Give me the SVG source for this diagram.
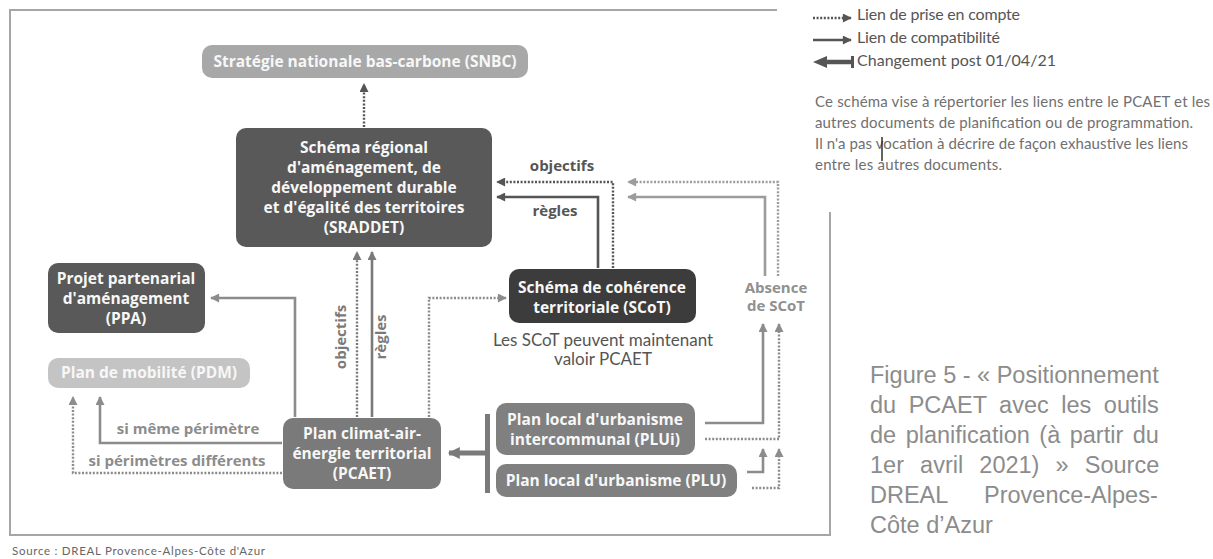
<svg xmlns="http://www.w3.org/2000/svg" width="1213" height="559" viewBox="0 0 1213 559">
  <style>
    .box { stroke: none; }
    .bt { font-family: "Open Sans", Lato, sans-serif; font-weight: bold; font-size: 15.5px; fill: #f7f7f7; text-anchor: middle; }
    .lbl { font-family: "Open Sans", Lato, sans-serif; font-weight: bold; font-size: 15px; text-anchor: middle; }
    .note { font-family: Lato, "Open Sans", sans-serif; font-size: 17px; fill: #555; text-anchor: middle; }
    .leg { font-family: Lato, "Open Sans", sans-serif; font-size: 16px; fill: #555; }
    .par { font-family: Lato, "Open Sans", sans-serif; font-size: 15px; fill: #707070; }
    .cap { font-family: "Liberation Sans", Arial, sans-serif; font-size: 23.5px; fill: #8c8c8c; }
    .solid { fill: none; stroke-width: 2.6; }
    .dot { fill: none; stroke-width: 2.4; stroke-dasharray: 2 1.6; }
    .c1 { stroke: #555; }
    .c2 { stroke: #7a7a7a; }
    .c3 { stroke: #8c8c8c; }
    .c4 { stroke: #9c9c9c; }
  </style>
  <defs>
    <marker id="a1" viewBox="0 0 10 10" refX="9" refY="5" markerUnits="userSpaceOnUse" markerWidth="10" markerHeight="9" orient="auto">
      <path d="M0,0 L10,5 L0,10 z" fill="#555"/>
    </marker>
    <marker id="a2" viewBox="0 0 10 10" refX="9" refY="5" markerUnits="userSpaceOnUse" markerWidth="10" markerHeight="9" orient="auto">
      <path d="M0,0 L10,5 L0,10 z" fill="#7a7a7a"/>
    </marker>
    <marker id="a3" viewBox="0 0 10 10" refX="9" refY="5" markerUnits="userSpaceOnUse" markerWidth="10" markerHeight="9" orient="auto">
      <path d="M0,0 L10,5 L0,10 z" fill="#8c8c8c"/>
    </marker>
    <marker id="a4" viewBox="0 0 10 10" refX="9" refY="5" markerUnits="userSpaceOnUse" markerWidth="10" markerHeight="9" orient="auto">
      <path d="M0,0 L10,5 L0,10 z" fill="#9c9c9c"/>
    </marker>
    <marker id="big" viewBox="0 0 10 10" refX="9" refY="5" markerUnits="userSpaceOnUse" markerWidth="13" markerHeight="12" orient="auto">
      <path d="M0,0 L10,5 L0,10 z" fill="#7a7a7a"/>
    </marker>
  </defs>

  <rect width="1213" height="559" fill="#ffffff"/>

  <!-- frame around the schema -->
  <path d="M777,10 H10 V535 H830 V212" fill="none" stroke="#a6a6a6" stroke-width="2"/>

  <!-- legend -->
  <g id="legend">
    <path class="dot c1" d="M813,18 H851" marker-end="url(#a1)"/>
    <path class="solid c1" d="M813,40 H851" marker-end="url(#a1)"/>
    <path d="M825,62 H852" stroke="#555" stroke-width="4.5" fill="none"/>
    <path d="M813,62 L827,56 L827,68 z" fill="#555"/>
    <rect x="851" y="56" width="3" height="12" fill="#555"/>
    <text class="leg" x="857" y="20" textLength="163">Lien de prise en compte</text>
    <text class="leg" x="857" y="43" textLength="143">Lien de compatibilité</text>
    <text class="leg" x="857" y="66" textLength="199">Changement post 01/04/21</text>
    <text class="par" x="815" y="107" textLength="395">Ce schéma vise à répertorier les liens entre le PCAET et les</text>
    <text class="par" x="815" y="128" textLength="378">autres documents de planification ou de programmation.</text>
    <text class="par" x="815" y="149" textLength="373">Il n'a pas vocation à décrire de façon exhaustive les liens</text>
    <text class="par" x="815" y="170" textLength="187">entre les autres documents.</text>
    <line x1="882" y1="137" x2="882" y2="161" stroke="#222" stroke-width="1.4"/>
  </g>

  <!-- caption -->
  <g id="caption">
    <text class="cap" x="870" y="383" word-spacing="0">Figure 5 - « Positionnement</text>
    <text class="cap" x="870" y="413" word-spacing="6">du PCAET avec les outils</text>
    <text class="cap" x="870" y="443" word-spacing="3">de planification (à partir du</text>
    <text class="cap" x="870" y="473" word-spacing="9.6">1er avril 2021) » Source</text>
    <text class="cap" x="870" y="503" word-spacing="30">DREAL Provence-Alpes-</text>
    <text class="cap" x="870" y="533">Côte d’Azur</text>
  </g>

  <text x="12" y="555" font-family="Lato, 'Open Sans', sans-serif" font-size="11.5" fill="#666" textLength="253">Source : DREAL Provence-Alpes-Côte d'Azur</text>

  <!-- connectors -->
  <g id="connectors">
    <path class="dot c1" d="M364,127 V84" marker-end="url(#a1)"/>
    <path class="dot c2" d="M357,417 V252" marker-end="url(#a2)"/>
    <path class="solid c2" d="M372,417 V252" marker-end="url(#a2)"/>
    <path class="solid c3" d="M295,417 V298 H211" marker-end="url(#a3)"/>
    <path class="solid c3" d="M282,443 H100 V397" marker-end="url(#a3)"/>
    <path class="dot c3" d="M282,473 H73 V397" marker-end="url(#a3)"/>
    <path class="dot c3" d="M429,417 V298 H506" marker-end="url(#a3)"/>
    <path class="solid c1" d="M598,268 V197 H497" marker-end="url(#a1)"/>
    <path class="dot c1" d="M613,268 V182 H497" marker-end="url(#a1)"/>
    <path class="solid c4" d="M765,276 V197 H628" marker-end="url(#a4)"/>
    <path class="dot c4" d="M778,276 V182 H628" marker-end="url(#a4)"/>
    <path class="solid c3" d="M705,423 H763 V324" marker-end="url(#a3)"/>
    <path class="dot c3" d="M705,439 H779 V324" marker-end="url(#a3)"/>
    <path class="solid c3" d="M747,472 H763 V449" marker-end="url(#a3)"/>
    <path class="dot c3" d="M752,488 H779 V449" marker-end="url(#a3)"/>
    <rect x="485" y="414" width="5" height="79" fill="#7a7a7a"/>
    <path d="M487,453 H449" stroke="#7a7a7a" stroke-width="5" fill="none" marker-end="url(#big)"/>
  </g>

  <!-- connector labels -->
  <g id="labels">
    <text class="lbl" x="562" y="171" fill="#555">objectifs</text>
    <text class="lbl" x="555" y="216" fill="#555">règles</text>
    <text class="lbl" transform="translate(346,337) rotate(-90)" fill="#7a7a7a">objectifs</text>
    <text class="lbl" transform="translate(386,337) rotate(-90)" fill="#7a7a7a">règles</text>
    <text class="lbl" x="188" y="434" fill="#8c8c8c">si même périmètre</text>
    <text class="lbl" x="177" y="466" fill="#8c8c8c">si périmètres différents</text>
    <text class="lbl" x="776" y="293" fill="#909090" font-size="13">Absence</text>
    <text class="lbl" x="776" y="311" fill="#909090" font-size="13">de SCoT</text>
  </g>

  <!-- nodes -->
  <g id="snbc">
    <rect class="box" x="202" y="45" width="326" height="33" rx="10" fill="#a8a8a8"/>
    <text class="bt" x="365" y="67">Stratégie nationale bas-carbone (SNBC)</text>
  </g>
  <g id="sraddet">
    <rect class="box" x="236" y="128" width="256" height="119" rx="10" fill="#595959"/>
    <text class="bt" x="364" y="153">Schéma régional</text>
    <text class="bt" x="364" y="173">d'aménagement, de</text>
    <text class="bt" x="364" y="193">développement durable</text>
    <text class="bt" x="364" y="213">et d'égalité des territoires</text>
    <text class="bt" x="364" y="233">(SRADDET)</text>
  </g>
  <g id="ppa">
    <rect class="box" x="48" y="263" width="157" height="70" rx="10" fill="#595959"/>
    <text class="bt" x="126" y="284">Projet partenarial</text>
    <text class="bt" x="126" y="304">d'aménagement</text>
    <text class="bt" x="126" y="324">(PPA)</text>
  </g>
  <g id="pdm">
    <rect class="box" x="48" y="358" width="202" height="30" rx="10" fill="#c4c4c4"/>
    <text class="bt" x="149" y="378">Plan de mobilité (PDM)</text>
  </g>
  <g id="pcaet">
    <rect class="box" x="283" y="418" width="158" height="71" rx="10" fill="#7a7a7a"/>
    <text class="bt" x="362" y="439">Plan climat-air-</text>
    <text class="bt" x="362" y="459">énergie territorial</text>
    <text class="bt" x="362" y="479">(PCAET)</text>
  </g>
  <g id="scot">
    <rect class="box" x="509" y="269" width="187" height="54" rx="10" fill="#3c3c3c"/>
    <text class="bt" x="602" y="293">Schéma de cohérence</text>
    <text class="bt" x="602" y="313">territoriale (SCoT)</text>
    <text class="note" x="603" y="346">Les SCoT peuvent maintenant</text>
    <text class="note" x="603" y="365">valoir PCAET</text>
  </g>
  <g id="plui">
    <rect class="box" x="496" y="403" width="199" height="52" rx="10" fill="#808080"/>
    <text class="bt" x="595" y="425">Plan local d'urbanisme</text>
    <text class="bt" x="595" y="445">intercommunal (PLUi)</text>
  </g>
  <g id="plu">
    <rect class="box" x="496" y="464" width="241" height="33" rx="10" fill="#808080"/>
    <text class="bt" x="616" y="486">Plan local d'urbanisme (PLU)</text>
  </g>
</svg>
